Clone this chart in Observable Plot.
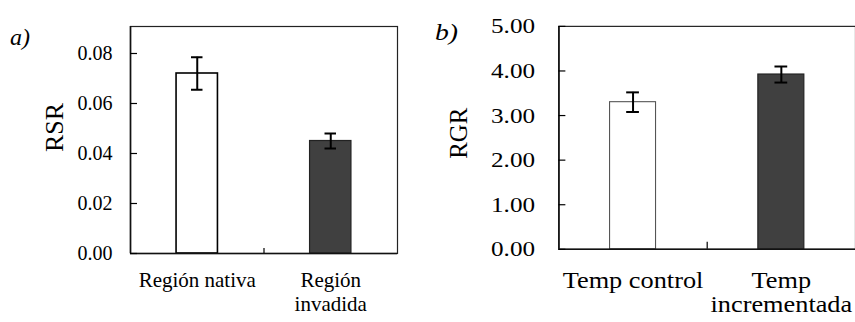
<!DOCTYPE html>
<html><head><meta charset="utf-8">
<script src="https://cdn.jsdelivr.net/npm/d3@7"></script>
<script src="https://cdn.jsdelivr.net/npm/@observablehq/plot@0.6"></script>
<style>
html,body{margin:0;padding:0;background:#fff;}
#wrap{position:relative;width:855px;height:322px;overflow:hidden;background:#fff;}
.panel{position:absolute;top:0;}
.lab{position:absolute;font-family:"Liberation Serif",serif;font-style:italic;font-size:24px;line-height:24px;color:#000;}
</style></head><body>
<div id="wrap">
  <div id="pa" class="panel" style="left:0"></div>
  <div id="pb" class="panel" style="left:430px"></div>
  <div class="lab" style="left:10px;top:25px">a)</div>
  <div class="lab" style="left:435px;top:20px;transform:scaleX(1.15);transform-origin:left top">b)</div>
</div>
<script>
// Panel a data
const catsA = ["Región nativa", "Región\ninvadida"];
const rsr = [0.072, 0.045];
const rsrErr = [0.0065, 0.003];
const ticksA = [0, 0.02, 0.04, 0.06, 0.08];
// Panel b data
const catsB = ["Temp control", "Temp\nincrementada"];
const rgr = [3.30, 3.92];
const rgrErr = [0.22, 0.18];
const ticksB = [0, 1, 2, 3, 4, 5];
const fills = ["white", "#404040"];

function panel(o) {
  const rows = o.cats.map((c, i) => ({c, pos: i + 0.5, v: o.vals[i], e: o.errs[i], fill: fills[i], stroke: o.strokes[i], sw: o.sws[i]}));
  const hw = 0.155, cap = 0.043;
  const labelAt = new Map(rows.map(d => [d.pos, d.c]));
  return Plot.plot({
    width: o.width, height: 322,
    marginLeft: o.mL, marginRight: o.mR, marginTop: o.mT, marginBottom: o.mB,
    style: {fontFamily: "Liberation Serif, serif", fontSize: o.fs + "px", color: "#000", background: "white", overflow: "visible"},
    x: {domain: [0, 2], label: null},
    y: {domain: [0, o.yMax], label: null},
    color: {type: "identity"},
    marks: [
      Plot.rect(rows, {x1: d => d.pos - hw, x2: d => d.pos + hw, y1: 0, y2: "v", fill: "fill", stroke: "stroke", strokeWidth: d => d.sw}),
      Plot.ruleX(rows, {x: "pos", y1: d => d.v - d.e, y2: d => d.v + d.e, stroke: "#000", strokeWidth: 2}),
      Plot.ruleY(rows, {y: d => d.v + d.e, x1: d => d.pos - cap, x2: d => d.pos + cap, stroke: "#000", strokeWidth: 2}),
      Plot.ruleY(rows, {y: d => d.v - d.e, x1: d => d.pos - cap, x2: d => d.pos + cap, stroke: "#000", strokeWidth: 2}),
      Plot.frame({stroke: "#222", strokeWidth: 1.2}),
      Plot.ruleY([0], {stroke: "#111", strokeWidth: 1.6}),
      Plot.ruleX([0], {stroke: "#111", strokeWidth: 1.6}),
      Plot.axisY({ticks: o.ticks, tickSize: -7, tickFormat: () => "", strokeWidth: 1.2, label: null}),
      Plot.axisY({ticks: o.ticks, tickSize: 0, tickPadding: o.yPad, tickFormat: d3.format(".2f"), fontSize: o.fs, label: null}),
      Plot.axisX({ticks: [1], tickSize: -o.centerTick, tickFormat: () => "", strokeWidth: 1.2, label: null}),
      Plot.axisX({ticks: rows.map(d => d.pos), tickSize: 0, tickPadding: o.xPad, tickFormat: d => labelAt.get(d), fontSize: o.cfs, lineHeight: o.lh, label: null}),
      Plot.text([o.yLabel], {frameAnchor: "left", rotate: -90, dx: o.ldx, dy: o.ldy, fontSize: o.lfs, text: d => d})
    ]
  });
}

const a = panel({cats: catsA, vals: rsr, errs: rsrErr, ticks: ticksA, yMax: 0.0908, yLabel: "RSR",
  strokes: ["#000", "#222"], sws: [1.6, 1.2],
  width: 430, mL: 130, mR: 33, mT: 26, mB: 69, fs: 20, cfs: 21, lfs: 26, lh: 1.12,
  yPad: 18, xPad: 17, centerTick: 5, ldx: -76, ldy: 12});
document.getElementById("pa").append(a);

const b = panel({cats: catsB, vals: rgr, errs: rgrErr, ticks: ticksB, yMax: 5, yLabel: "RGR",
  strokes: ["#555", "#222"], sws: [1.1, 1.2],
  width: 427, mL: 129, mR: 0, mT: 26, mB: 72, fs: 22, cfs: 23, lfs: 25, lh: 1.05,
  yPad: 24, xPad: 22, centerTick: 7, ldx: -100, ldy: 21});
document.getElementById("pb").append(b);

// panel b text in the reference is horizontally stretched
b.querySelectorAll('g[aria-label$="tick label"] text').forEach(t => {
  const spans = t.querySelectorAll("tspan");
  const els = spans.length ? Array.from(spans) : [t];
  els.forEach(e => {
    const L = e.getComputedTextLength();
    if (L > 0) { e.setAttribute("textLength", (L * 1.15).toFixed(1)); e.setAttribute("lengthAdjust", "spacingAndGlyphs"); }
  });
});
</script>
</body></html>
